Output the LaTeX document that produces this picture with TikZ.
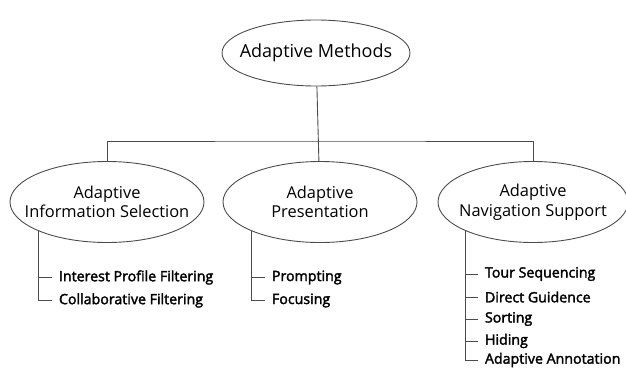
\documentclass[tikz,border=0pt]{standalone}
\usepackage{fontspec}
\setmainfont{Open Sans}
\newfontfamily\itemfont[FakeBold=2.2]{Open Sans}
\usetikzlibrary{shapes}

\begin{document}
\begin{tikzpicture}[x=1pt,y=1pt,line width=0.9pt,draw=black!70,
		method/.style={draw,ellipse,inner xsep=-14pt,inner ysep=0pt,align=center,font=\fontsize{16.4}{19.5}\selectfont},
		item/.style={anchor=west,inner sep=0pt,outer sep=7pt,font=\fontsize{14.2}{16}\itemfont}]
		\useasboundingbox (0,0) rectangle (626,368);
		\node[method,minimum width=188,minimum height=66,font=\fontsize{18}{21}\selectfont] (AM) at (316,315) {Adaptive Methods};
		\node[method,minimum width=194,minimum height=81] (AIS) at (107,166) {Adaptive\\Information Selection};
		\node[method,minimum width=194,minimum height=81] (AP) at (320,166) {Adaptive\\Presentation};
		\node[method,minimum width=190,minimum height=81] (ANS) at (533,166) {Adaptive\\Navigation Support};
		\coordinate (J) at (320,227);
		\draw (AM) -- (AP);
		\draw (AIS.north) |- (J) -| (ANS.north);
		\node[item] (IPF) at (52,90.5) {Interest Profile Filtering};
		\node[item] (CF) at (52,67.5) {Collaborative Filtering};
		\node[item] (PR) at (265,90.5) {Prompting};
		\node[item] (FO) at (265,67.5) {Focusing};
		\node[item] (TS) at (478,94) {Tour Sequencing};
		\node[item] (DG) at (478,71) {Direct Guidence};
		\node[item] (SO) at (478,49) {Sorting};
		\node[item] (HI) at (478,27) {Hiding};
		\node[item] (AA) at (478,8) {Adaptive Annotation};
		\draw (AIS.-157) |- (CF.west);
		\draw (IPF.west) -- (IPF.west -| AIS.-157);
		\draw (AP.-157) |- (FO.west);
		\draw (PR.west) -- (PR.west -| AP.-157);
		\draw (ANS.-157) |- (AA.west);
		\draw (TS.west) -- (TS.west -| ANS.-157);
		\draw (DG.west) -- (DG.west -| ANS.-157);
		\draw (SO.west) -- (SO.west -| ANS.-157);
		\draw (HI.west) -- (HI.west -| ANS.-157);
	\end{tikzpicture}
\end{document}
